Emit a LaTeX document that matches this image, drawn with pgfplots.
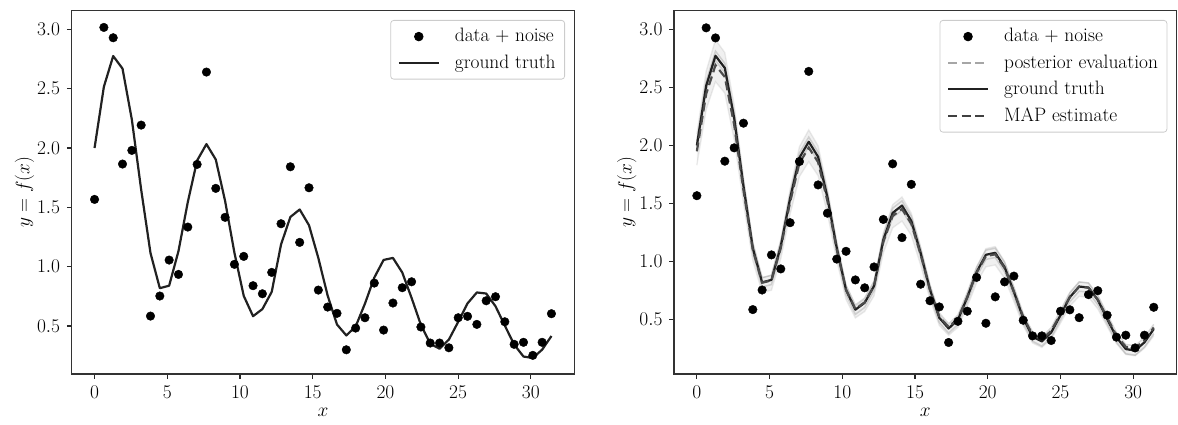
\documentclass[border=0pt]{standalone}
\usepackage{fix-cm}
\usepackage{pgfplots}
\usepackage{pgfplotstable}
\pgfplotsset{compat=1.18}
\usepgfplotslibrary{fillbetween}

\pgfplotstableread{
x f d pA pB pC pD map
0.000 2.000 1.567 2.100 1.830 1.960 2.040 1.950
0.641 2.516 3.016 2.642 2.310 2.476 2.556 2.445
1.282 2.775 2.929 2.914 2.551 2.735 2.815 2.694
1.923 2.669 1.865 2.802 2.452 2.629 2.709 2.592
2.565 2.239 1.980 2.351 2.052 2.199 2.279 2.179
3.206 1.649 2.193 1.731 1.504 1.609 1.689 1.613
3.847 1.115 0.584 1.171 1.007 1.075 1.155 1.100
4.488 0.819 0.753 0.860 0.732 0.779 0.859 0.816
5.129 0.840 1.056 0.882 0.751 0.800 0.880 0.836
5.770 1.131 0.935 1.188 1.022 1.091 1.171 1.116
6.411 1.544 1.334 1.621 1.406 1.504 1.584 1.512
7.053 1.895 1.862 1.990 1.732 1.855 1.935 1.849
7.694 2.033 2.640 2.135 1.861 1.993 2.073 1.982
8.335 1.903 1.660 1.998 1.740 1.863 1.943 1.857
8.976 1.554 1.416 1.632 1.415 1.514 1.594 1.522
9.617 1.118 1.020 1.174 1.010 1.078 1.158 1.103
10.258 0.754 1.087 0.792 0.671 0.714 0.794 0.754
10.899 0.583 0.840 0.612 0.512 0.543 0.623 0.590
11.541 0.643 0.772 0.675 0.568 0.603 0.683 0.647
12.182 0.788 0.952 0.827 0.703 0.748 0.828 0.786
12.823 1.187 1.362 1.246 1.074 1.147 1.227 1.170
13.464 1.419 1.842 1.490 1.290 1.379 1.459 1.392
14.105 1.482 1.205 1.556 1.348 1.442 1.522 1.453
14.746 1.349 1.665 1.416 1.225 1.309 1.389 1.325
15.387 1.073 0.803 1.127 0.968 1.033 1.113 1.060
16.029 0.756 0.660 0.794 0.673 0.716 0.796 0.756
16.670 0.513 0.607 0.539 0.447 0.473 0.553 0.522
17.311 0.421 0.300 0.442 0.362 0.381 0.461 0.434
17.952 0.496 0.483 0.521 0.431 0.456 0.536 0.506
18.593 0.689 0.570 0.723 0.611 0.649 0.729 0.691
19.234 0.908 0.862 0.953 0.814 0.868 0.948 0.902
19.875 1.057 0.466 1.110 0.953 1.017 1.097 1.045
20.517 1.074 0.694 1.128 0.969 1.034 1.114 1.061
21.158 0.951 0.823 0.999 0.854 0.911 0.991 0.943
21.799 0.737 0.873 0.774 0.655 0.697 0.777 0.738
22.440 0.510 0.492 0.536 0.444 0.470 0.550 0.520
23.081 0.351 0.357 0.369 0.296 0.311 0.391 0.367
23.722 0.309 0.357 0.324 0.257 0.269 0.349 0.327
24.363 0.386 0.317 0.405 0.329 0.346 0.426 0.401
25.005 0.536 0.570 0.563 0.468 0.496 0.576 0.545
25.646 0.691 0.582 0.726 0.613 0.651 0.731 0.693
26.287 0.783 0.514 0.822 0.698 0.743 0.823 0.782
26.928 0.774 0.713 0.813 0.690 0.734 0.814 0.773
27.569 0.667 0.747 0.700 0.590 0.627 0.707 0.670
28.210 0.504 0.536 0.529 0.439 0.464 0.544 0.514
28.851 0.344 0.346 0.361 0.290 0.304 0.384 0.360
29.493 0.243 0.363 0.255 0.196 0.203 0.283 0.263
30.134 0.231 0.253 0.243 0.185 0.191 0.271 0.252
30.775 0.301 0.363 0.316 0.250 0.261 0.341 0.319
31.416 0.416 0.604 0.437 0.357 0.376 0.456 0.429
}\tab

\pgfplotsset{
  myax/.style={
    scale only axis, width=502.6pt, height=363.3pt,
    xmin=-1.571, xmax=32.987,
    xtick={0,5,10,15,20,25,30},
    ytick={0.5,1,1.5,2,2.5,3},
    tick align=outside, tick pos=left,
    major tick length=4.9pt,
    every tick/.style={black!85, line width=1.1pt},
    axis line style={black!80, line width=1.1pt},
    yticklabel style={/pgf/number format/fixed, /pgf/number format/fixed zerofill, /pgf/number format/precision=1},
    tick label style={font=\fontsize{19.4}{23}\selectfont},
    label style={font=\fontsize{19.4}{23}\selectfont},
    xlabel={$x$}, ylabel={$y = f(x)$},
    xlabel style={at={(axis description cs:0.5,-0.105)}, anchor=center},
    ylabel style={at={(axis description cs:-0.094,0.5)}, anchor=center},
    legend cell align=left,
    legend image code/.code={\draw[mark repeat=2,mark phase=2,##1, fill opacity=1, draw opacity=1] plot coordinates {(0pt,0pt) (20pt,0pt) (40pt,0pt)};},
    legend style={at={(1,1)}, anchor=north east, xshift=-9.3pt, yshift=-9.3pt,
      draw=black!20, line width=0.8pt, rounded corners=3pt, fill=white, fill opacity=0.8, text opacity=1,
      inner xsep=7pt, inner ysep=6pt, row sep=6pt,
      font=\fontsize{19.4}{23}\selectfont,
      /tikz/every odd column/.append style={column sep=13pt}},
  },
  dat/.style={only marks, mark=*, mark size=4.3pt, black, mark options={draw=black, fill=black}},
  gt/.style={black!87, line width=2.2pt, line join=round},
}

\begin{document}
\fontsize{19.4}{23}\selectfont
\begin{tikzpicture}
\path (0,0) rectangle (1178pt,425pt);

\begin{axis}[myax, at={(71.7pt,51pt)}, anchor=south west, ymin=0.096, ymax=3.157]
\addlegendimage{dat}
\addlegendentry{data + noise}
\addlegendimage{gt}
\addlegendentry{ground truth}
\addplot[gt, forget plot] table[x=x, y=f] {\tab};
\addplot[dat, forget plot] table[x=x, y=d] {\tab};
\end{axis}

\begin{axis}[myax, at={(674pt,51pt)}, anchor=south west, ymin=0.028, ymax=3.164]
\addlegendimage{dat}
\addlegendentry{data + noise}
\addlegendimage{black!35, line width=2.2pt, dash pattern=on 9pt off 4.5pt}
\addlegendentry{posterior evaluation}
\addlegendimage{gt}
\addlegendentry{ground truth}
\addlegendimage{black!75, line width=2.2pt, dash pattern=on 9pt off 4.5pt}
\addlegendentry{MAP estimate}
\addplot[name path=A, draw=gray, opacity=0.15, line width=1.4pt, forget plot] table[x=x, y=pA] {\tab};
\addplot[name path=B, draw=gray, opacity=0.15, line width=1.4pt, forget plot] table[x=x, y=pB] {\tab};
\addplot[fill=gray, fill opacity=0.12, draw=none, forget plot] fill between[of=A and B];
\addplot[draw=gray, opacity=0.3, line width=1.5pt, forget plot] table[x=x, y=pC] {\tab};
\addplot[draw=gray, opacity=0.3, line width=1.5pt, forget plot] table[x=x, y=pD] {\tab};
\addplot[gt, forget plot] table[x=x, y=f] {\tab};
\addplot[black!70, line width=2.2pt, dash pattern=on 9pt off 4.5pt, forget plot] table[x=x, y=map] {\tab};
\addplot[dat, forget plot] table[x=x, y=d] {\tab};
\end{axis}
\end{tikzpicture}
\end{document}
